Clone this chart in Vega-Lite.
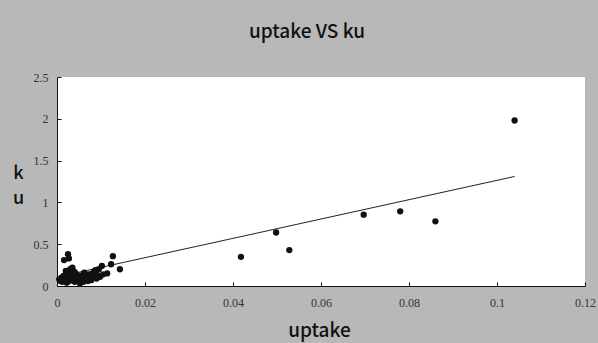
{
  "$schema": "https://vega.github.io/schema/vega-lite/v6.json",
  "autosize": {"type": "none"},
  "width": 528,
  "height": 209,
  "padding": {"left": 57, "top": 77, "right": 13, "bottom": 57},
  "background": "#b8b8b8",
  "config": {
    "view": {"fill": "white", "stroke": null},
    "axis": {"grid": false, "domainColor": "#111", "tickColor": "#111", "labelFont": "Liberation Serif", "labelFontSize": 12, "labelColor": "#333", "titleFont": "Noto Sans CJK JP", "titleFontWeight": 500, "titleFontSize": 19, "titleColor": "#111"}
  },
  "title": {"text": "uptake VS ku", "font": "Noto Sans CJK JP", "fontSize": 19, "fontWeight": 500, "color": "#111", "anchor": "middle", "offset": 29, "dx": -14},
  "datasets": {
    "pts": [
      {"uptake": 0.0005, "ku": 0.08}, {"uptake": 0.0008, "ku": 0.06}, {"uptake": 0.001, "ku": 0.1}, {"uptake": 0.0012, "ku": 0.05},
      {"uptake": 0.0015, "ku": 0.12}, {"uptake": 0.0016, "ku": 0.31}, {"uptake": 0.0018, "ku": 0.07}, {"uptake": 0.002, "ku": 0.18},
      {"uptake": 0.002, "ku": 0.09}, {"uptake": 0.0022, "ku": 0.04}, {"uptake": 0.0025, "ku": 0.38}, {"uptake": 0.0025, "ku": 0.14},
      {"uptake": 0.0027, "ku": 0.33}, {"uptake": 0.0028, "ku": 0.06}, {"uptake": 0.003, "ku": 0.2}, {"uptake": 0.003, "ku": 0.1},
      {"uptake": 0.0032, "ku": 0.16}, {"uptake": 0.0035, "ku": 0.08}, {"uptake": 0.0035, "ku": 0.22}, {"uptake": 0.0038, "ku": 0.12},
      {"uptake": 0.004, "ku": 0.05}, {"uptake": 0.004, "ku": 0.17}, {"uptake": 0.0042, "ku": 0.09}, {"uptake": 0.0045, "ku": 0.14},
      {"uptake": 0.0048, "ku": 0.06}, {"uptake": 0.005, "ku": 0.11}, {"uptake": 0.0052, "ku": 0.03}, {"uptake": 0.0055, "ku": 0.08},
      {"uptake": 0.0058, "ku": 0.13}, {"uptake": 0.006, "ku": 0.05}, {"uptake": 0.0062, "ku": 0.16}, {"uptake": 0.0065, "ku": 0.09},
      {"uptake": 0.0068, "ku": 0.12}, {"uptake": 0.007, "ku": 0.06}, {"uptake": 0.0072, "ku": 0.14}, {"uptake": 0.0075, "ku": 0.1},
      {"uptake": 0.0078, "ku": 0.07}, {"uptake": 0.008, "ku": 0.15}, {"uptake": 0.0082, "ku": 0.11}, {"uptake": 0.0085, "ku": 0.17},
      {"uptake": 0.0087, "ku": 0.19}, {"uptake": 0.009, "ku": 0.09}, {"uptake": 0.0092, "ku": 0.13}, {"uptake": 0.0095, "ku": 0.2},
      {"uptake": 0.0098, "ku": 0.11}, {"uptake": 0.0102, "ku": 0.24}, {"uptake": 0.0105, "ku": 0.14}, {"uptake": 0.0114, "ku": 0.15},
      {"uptake": 0.0123, "ku": 0.26}, {"uptake": 0.0127, "ku": 0.357}, {"uptake": 0.0143, "ku": 0.2},
      {"uptake": 0.0418, "ku": 0.349}, {"uptake": 0.0498, "ku": 0.64}, {"uptake": 0.0528, "ku": 0.43}, {"uptake": 0.0697, "ku": 0.853},
      {"uptake": 0.078, "ku": 0.893}, {"uptake": 0.086, "ku": 0.774}, {"uptake": 0.104, "ku": 1.98}
    ],
    "trend": [
      {"uptake": 0.001, "ku": 0.119}, {"uptake": 0.104, "ku": 1.31}
    ]
  },
  "layer": [
    {
      "data": {"name": "trend"},
      "mark": {"type": "line", "color": "#222", "strokeWidth": 1},
      "encoding": {
        "x": {"field": "uptake", "type": "quantitative"},
        "y": {"field": "ku", "type": "quantitative"}
      }
    },
    {
      "data": {"name": "pts"},
      "mark": {"type": "circle", "color": "#111", "opacity": 1, "size": 40},
      "encoding": {
        "x": {"field": "uptake", "type": "quantitative", "scale": {"domain": [0, 0.12], "nice": false, "zero": true},
          "axis": {"values": [0, 0.02, 0.04, 0.06, 0.08, 0.1, 0.12], "format": "~g", "tickSize": -4, "labelPadding": 15, "labelFlush": false, "title": "uptake", "titleX": 262, "titleY": 44, "titleBaseline": "middle", "titleAnchor": null}},
        "y": {"field": "ku", "type": "quantitative", "scale": {"domain": [0, 2.5], "nice": false},
          "axis": {"values": [0, 0.5, 1, 1.5, 2, 2.5], "format": "~g", "tickSize": -4, "labelPadding": 13, "labelFlush": false, "title": ["k", "u"], "titleAngle": 0, "titleX": -39, "titleY": 96, "titleAlign": "center", "titleBaseline": "middle", "titleLineHeight": 25, "titleFontSize": 18, "titleAnchor": null}}
      }
    }
  ]
}
